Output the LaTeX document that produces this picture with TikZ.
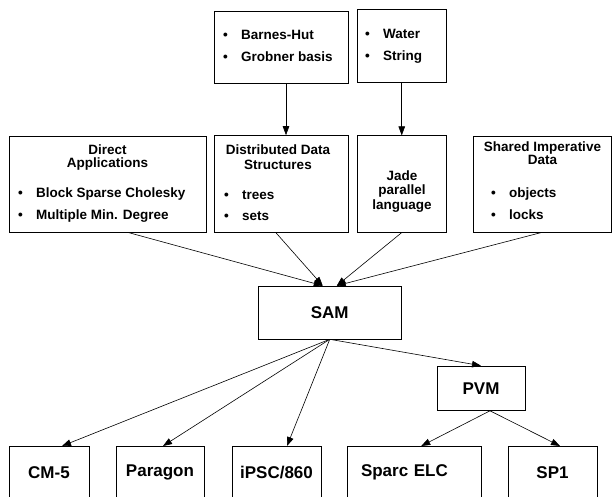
\documentclass[tikz,border=0pt]{standalone}
\usepackage{fontspec}
\setmainfont{Liberation Sans}
\usetikzlibrary{positioning, arrows.meta, calc}
\newcommand{\bul}{\makebox[18pt][l]{\textbullet}}

\begin{document}
\begin{tikzpicture}[x=1pt, y=-1pt,
    box/.style={draw, line width=0.6pt, inner sep=0pt},
    bigbox/.style={box, font=\fontsize{17}{20}\selectfont\bfseries},
    head/.style={inner sep=0pt, align=center, anchor=north},
    items/.style={inner sep=0pt, align=left, anchor=north west,
                  font=\fontsize{13.5}{22}\selectfont\bfseries},
    link/.style={line width=0.6pt, -{Triangle[length=9pt, width=6.5pt]}},
    every node/.append style={font=\fontsize{13.5}{13}\selectfont\bfseries}]
  \useasboundingbox (0,0) rectangle (613,497);
  \clip (0,0) rectangle (613,497);

  % applications on top
  \node[box, minimum width=134pt, minimum height=72pt] (barnes) at (281,47) {};
  \node[box, minimum width=89.5pt, minimum height=73pt] (water) at (401.75,46) {};
  \node[items] at (223,30.2) {\bul Barnes-Hut\\\bul Grobner basis};
  \node[items] at (365,29.2) {\bul Water\\\bul String};

  % programming models
  \node[box, minimum width=197pt, minimum height=96pt] (direct) at (107.5,184) {};
  \node[box, minimum width=134pt, minimum height=97pt] (dds) at (281,184) {};
  \node[box, minimum width=89.5pt, minimum height=96.5pt] (jade) at (401.75,184) {};
  \node[box, minimum width=138.5pt, minimum height=96pt] (shared) at (542.25,184) {};

  \node[head] at (107.5,144.7) {Direct\\Applications};
  \node[items] at (18,187.2) {\bul Block Sparse Cholesky\\\bul Multiple Min. Degree};
  \node[head, font=\fontsize{13.5}{15.5}\selectfont\bfseries] at (278,144.2) {Distributed Data\\Structures};
  \node[items, font=\fontsize{13.5}{21}\selectfont\bfseries] at (224,190.8) {\bul trees\\\bul sets};
  \node[head, font=\fontsize{13.5}{14.5}\selectfont\bfseries] at (402,170.2) {Jade\\parallel\\language};
  \node[head] at (542.5,141.9) {Shared Imperative\\Data};
  \node[items] at (491,187.9) {\bul objects\\\bul locks};

  % SAM and the machines
  \node[bigbox, minimum width=142.5pt, minimum height=53pt] (sam) at (329.75,312.5) {SAM};
  \node[bigbox, minimum width=88pt, minimum height=44.5pt] (pvm) at (481,388.25) {PVM};

  \node[bigbox, minimum width=80pt, minimum height=52pt, anchor=north] (cm5) at (49,446) {CM-5};
  \node[bigbox, minimum width=88pt, minimum height=52pt, anchor=north] (paragon) at (160,446) {Paragon};
  \node[bigbox, minimum width=89pt, minimum height=52pt, anchor=north] (ipsc) at (276.5,446) {iPSC/860};
  \node[bigbox, minimum height=52pt, text width=106.5pt, inner xsep=13.5pt, align=left,
        anchor=north] (sparc) at (414.25,446) {Sparc ELC};
  \node[bigbox, minimum width=89pt, minimum height=52pt, anchor=north] (sp1) at (552.5,446) {SP1};

  % connectors
  \coordinate (samL) at ($(sam.north)+(-7,0)$);
  \coordinate (samR) at ($(sam.north)+(7,0)$);
  \coordinate (pvmout) at ($(pvm.south)+(9,0)$);
  \draw[link] ($(barnes.south)+(5,0)$) -- ($(dds.north)+(5,0)$);
  \draw[link] (water.south) -- (jade.north);
  \draw[link] ($(direct.south)+(20,0)$) -- (samL);
  \draw[link] ($(dds.south)+(-5,0)$) -- (samL);
  \draw[link] (jade.south) -- (samR);
  \draw[link] (shared.south) -- (samR);
  \draw[link] (sam.south) -- ($(cm5.north)+(13,0)$);
  \draw[link] (sam.south) -- ($(paragon.north)+(3,0)$);
  \draw[link] (sam.south) -- ($(ipsc.north)+(10.5,0)$);
  \draw[link] (sam.south) -- (pvm.north);
  \draw[link] (pvmout) -- ($(sparc.north)+(7,0)$);
  \draw[link] (pvmout) -- ($(sp1.north)+(7.5,0)$);
\end{tikzpicture}
\end{document}
